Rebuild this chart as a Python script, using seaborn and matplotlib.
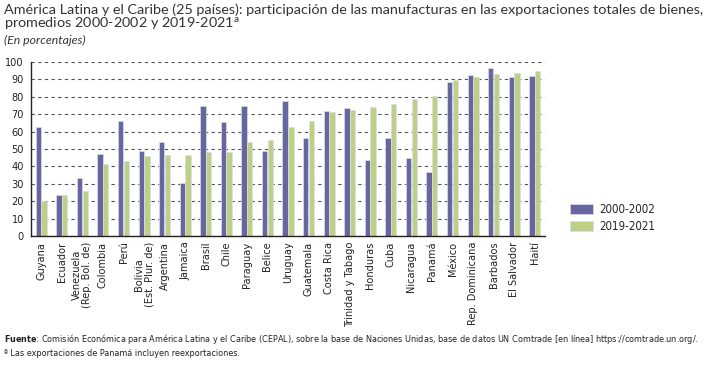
import pandas as pd
import matplotlib.pyplot as plt
import seaborn as sns

# Datos
paises = ['Guyana', 'Ecuador', 'Venezuela\n(Rep. Bol. de)', 'Colombia', 'Perú',
          'Bolivia\n(Est. Plur. de)', 'Argentina', 'Jamaica', 'Brasil', 'Chile',
          'Paraguay', 'Belice', 'Uruguay', 'Guatemala', 'Costa Rica',
          'Trinidad y Tabago', 'Honduras', 'Cuba', 'Nicaragua', 'Panamá',
          'México', 'Rep. Dominicana', 'Barbados', 'El Salvador', 'Haití']
v2000 = [62.7, 23.7, 33.3, 47.0, 66.2, 48.8, 53.8, 30.2, 75.0, 65.6,
         75.0, 48.7, 77.7, 56.3, 71.7, 73.8, 43.5, 56.3, 44.8, 36.5,
         88.3, 92.7, 96.5, 91.2, 92.1]
v2019 = [20.0, 23.3, 26.0, 41.3, 43.3, 45.8, 46.3, 46.3, 48.0, 48.5,
         53.8, 55.0, 62.7, 66.2, 71.3, 72.5, 74.4, 76.0, 78.7, 80.6,
         89.8, 91.5, 93.3, 93.8, 94.6]
periodos = ['2000-2002', '2019-2021']

df = pd.concat([
    pd.DataFrame({'pais': paises, 'valor': v2000, 'periodo': periodos[0]}),
    pd.DataFrame({'pais': paises, 'valor': v2019, 'periodo': periodos[1]}),
], ignore_index=True)

sns.set_style('white')
plt.rcParams['font.family'] = ['DejaVu Sans']
plt.rcParams['font.stretch'] = 'condensed'

fig = plt.figure(figsize=(7.22, 3.70), dpi=100)
ax = fig.add_axes([0.0429, 0.3622, 0.712, 0.4702])

sns.barplot(data=df, x='pais', y='valor', hue='periodo', order=paises,
            palette=['#5f5ca9', '#c4dc7a'], width=0.55, gap=0.05,
            edgecolor='#dcdcec', linewidth=0.5, ax=ax)

ax.set_ylim(0, 100)
ax.set_xlim(-0.5, len(paises) - 0.5)
ax.set_yticks(range(0, 101, 10))
ax.yaxis.grid(True, linestyle=(0, (3, 3)), color='#555555', linewidth=0.8)
ax.set_axisbelow(True)
ax.set_xlabel('')
ax.set_ylabel('')
for s in ['top', 'right']:
    ax.spines[s].set_visible(False)
for s in ['left', 'bottom']:
    ax.spines[s].set_color('#222222')
    ax.spines[s].set_linewidth(1.0)

ax.set_xticks(range(len(paises)))
ax.set_xticklabels(paises, rotation=90, fontsize=7.8, color='#222222', va='top', linespacing=1.0)
ax.tick_params(axis='x', length=0, pad=4)
ax.set_xticks([i - 0.5 for i in range(len(paises) + 1)], minor=True)
ax.tick_params(axis='x', which='minor', length=5, width=0.8, color='#222222', direction='out')
ax.tick_params(axis='y', labelsize=7.8, length=3, width=0.8, color='#222222', labelcolor='#222222', pad=2)

ax.legend(loc='lower left', bbox_to_anchor=(1.04, -0.01), frameon=False, fontsize=8.3,
          handlelength=2.0, handleheight=0.9, handletextpad=0.5, labelspacing=0.35,
          borderaxespad=0)

fig.text(0.006, 0.992, 'América Latina y el Caribe (25 países): participación de las manufacturas en las exportaciones totales de bienes,\n'
         'promedios 2000-2002 y 2019-2021$^{\\mathregular{a}}$',
         family=['Lato', 'DejaVu Sans'], stretch='normal', fontsize=10.4, color='#333333', va='top', linespacing=1.0)
fig.text(0.006, 0.905, '(En porcentajes)', family=['Lato', 'DejaVu Sans'], stretch='normal', style='italic',
         fontsize=8.8, color='#333333', va='top')

fig.text(0.006, 0.083, r'$\bf{Fuente}$: Comisión Económica para América Latina y el Caribe (CEPAL), sobre la base de Naciones Unidas, '
         'base de datos UN Comtrade [en línea] https://comtrade.un.org/.',
         fontsize=6.45, color='#222222', va='center')
fig.text(0.006, 0.045, 'ª Las exportaciones de Panamá incluyen reexportaciones.',
         fontsize=6.45, color='#222222', va='center')

fig.savefig('out.png', dpi=100)
